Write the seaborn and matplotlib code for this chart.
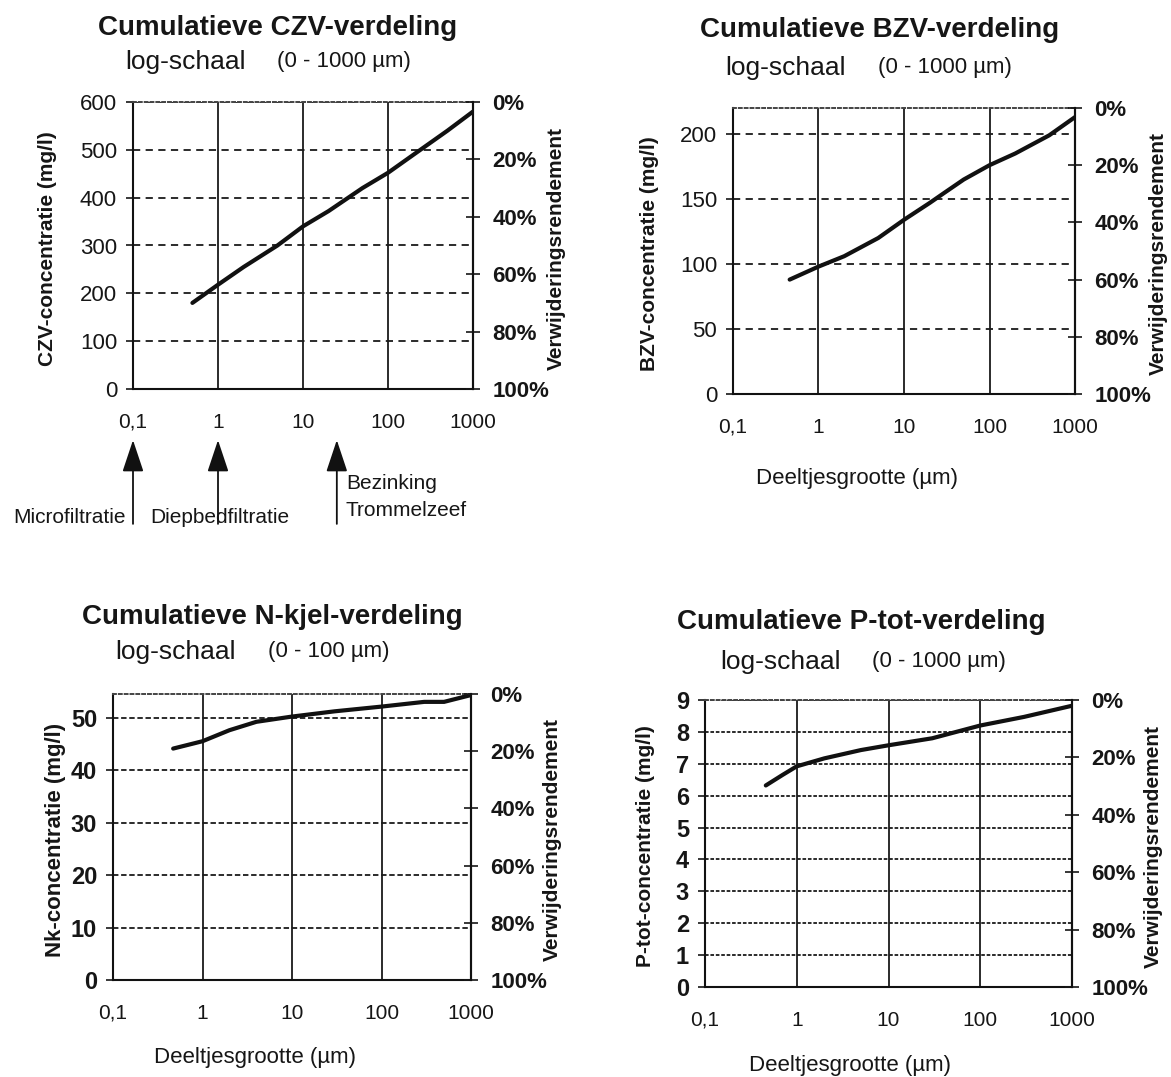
import matplotlib
matplotlib.use("Agg")
import matplotlib.pyplot as plt
import seaborn as sns
from matplotlib.ticker import FixedLocator, NullLocator

# ---- data -----------------------------------------------------------------
# particle size (um) vs cumulative concentration (mg/l)
czv_size = [0.5, 1, 2, 5, 10, 20, 50, 100, 200, 500, 1000]
czv_conc = [180, 218, 255, 300, 340, 372, 420, 452, 490, 540, 580]

bzv_size = [0.46, 1, 2, 5, 10, 20, 30, 50, 100, 200, 500, 1000]
bzv_conc = [88, 98, 106, 120, 134, 147, 155, 165, 176, 185, 199, 213]

nk_size = [0.47, 1, 2, 4, 10, 30, 100, 300, 500, 1000]
nk_conc = [44.1, 45.5, 47.6, 49.2, 50.2, 51.2, 52.1, 53.0, 53.0, 54.3]

ptot_size = [0.46, 0.7, 1, 2, 5, 10, 30, 100, 300, 1000]
ptot_conc = [6.32, 6.65, 6.92, 7.17, 7.43, 7.58, 7.8, 8.2, 8.47, 8.82]

x_ticks = [0.1, 1, 10, 100, 1000]
x_ticklabels = ["0,1", "1", "10", "100", "1000"]
pct_ticks = [0, 20, 40, 60, 80, 100]
pct_labels = [f"{p}%" for p in pct_ticks]

# separation techniques marked under the CZV chart
tech_pos = [0.1, 1, 25]

sns.set_theme(style="white")
plt.rcParams["font.family"] = ["Liberation Sans", "DejaVu Sans"]
plt.rcParams["text.color"] = "#161616"
plt.rcParams["axes.labelcolor"] = "#161616"
plt.rcParams["xtick.color"] = "#161616"
plt.rcParams["ytick.color"] = "#161616"

W, H = 1171, 1077
fig = plt.figure(figsize=(W / 100, H / 100), dpi=100)
fig.patch.set_facecolor("white")


def px_box(x0, y0, x1, y1):
    return [x0 / W, 1 - y1 / H, (x1 - x0) / W, (y1 - y0) / H]


def fig_xy(x, y):
    return x / W, 1 - y / H


def draw_panel(box, size, conc, ymax, yticks, ylabel, ylab_x, rlab_x,
               ytick_size, ytick_bold, ylab_size, xlabel_xy, dash):
    ax = fig.add_axes(box)
    ax.set_xscale("log")
    sns.lineplot(x=size, y=conc, ax=ax, color="#111111", linewidth=3.0)
    ax.set_xlim(0.1, 1000)
    ax.set_ylim(0, ymax)
    ax.xaxis.set_major_locator(FixedLocator(x_ticks))
    ax.xaxis.set_minor_locator(NullLocator())
    ax.set_xticklabels(x_ticklabels)
    ax.set_yticks(yticks)
    ax.set_yticklabels([str(v) for v in yticks],
                       fontweight="bold" if ytick_bold else "normal")
    ax.set_axisbelow(True)
    ax.grid(axis="y", linestyle=dash, color="#1a1a1a", linewidth=1.3)
    ax.grid(axis="x", linestyle="-", color="#1a1a1a", linewidth=1.3)
    for side in ["left", "bottom", "right"]:
        ax.spines[side].set_color("#111111")
        ax.spines[side].set_linewidth(1.5)
    ax.spines["top"].set_color("#444444")
    ax.spines["top"].set_linestyle((0, (1.5, 1.5)))
    ax.spines["top"].set_linewidth(1.4)
    ax.tick_params(axis="y", direction="out", length=5, width=1.2,
                   pad=6.5, labelsize=ytick_size)
    ax.tick_params(axis="x", direction="out", length=5, width=1.2,
                   pad=12, labelsize=15)
    ax.set_ylabel(ylabel, fontsize=ylab_size, fontweight="bold")
    ax.yaxis.set_label_coords(ylab_x, 0.49)
    ax.yaxis.label.set_va("center")
    if xlabel_xy is not None:
        ax.set_xlabel("Deeltjesgrootte (µm)", fontsize=16)
        ax.xaxis.set_label_coords(*xlabel_xy)
        ax.xaxis.label.set_va("center")

    ax2 = ax.twinx()
    ax2.set_ylim(100, 0)
    ax2.set_yticks(pct_ticks)
    ax2.set_yticklabels(pct_labels, fontweight="bold")
    ax2.grid(False)
    ax2.tick_params(axis="y", direction="inout", length=10, width=1.2,
                    pad=9, labelsize=16)
    for side in ["left", "bottom", "top"]:
        ax2.spines[side].set_visible(False)
    ax2.spines["right"].set_color("#111111")
    ax2.spines["right"].set_linewidth(1.5)
    ax2.set_ylabel("Verwijderingsrendement", fontsize=15, fontweight="bold")
    ax2.yaxis.set_label_coords(rlab_x, 0.49)
    ax2.yaxis.label.set_va("center")
    return ax


def titles(title, tx, ty, sub_a, sub_b, ax_x, bx_x, sy):
    fig.text(*fig_xy(tx, ty), title, fontsize=20, fontweight="bold",
             ha="center", va="center")
    fig.text(*fig_xy(ax_x, sy), sub_a, fontsize=19, ha="left", va="center")
    fig.text(*fig_xy(bx_x, sy), sub_b, fontsize=16, ha="left", va="center")


# ---- CZV -------------------------------------------------------------------
ax1 = draw_panel(px_box(133, 102, 473, 389), czv_size, czv_conc, 600,
                 list(range(0, 601, 100)), "CZV-concentratie (mg/l)",
                 -0.25, 1.244, 16, False, 15, None, (0, (4, 3)))
titles("Cumulatieve CZV-verdeling", 278, 28, "log-schaal", "(0 - 1000 µm)",
       125, 277, 62)

trans = ax1.get_xaxis_transform()
for xp in tech_pos:
    ax1.annotate("", xy=(xp, -0.178), xytext=(xp, -0.47), xycoords=trans,
                 textcoords=trans, annotation_clip=False,
                 arrowprops=dict(arrowstyle="-|>,head_length=0.9,head_width=0.3",
                                 color="#111111", lw=1.3, mutation_scale=22,
                                 shrinkA=0, shrinkB=0))
ax1.text(0.082, -0.446, "Microfiltratie", transform=trans, fontsize=15,
         ha="right", va="center", clip_on=False)
ax1.text(1.05, -0.449, "Diepbedfiltratie", transform=trans, fontsize=15,
         ha="center", va="center", clip_on=False)
ax1.text(32, -0.331, "Bezinking", transform=trans, fontsize=15,
         ha="left", va="center", clip_on=False)
ax1.text(32, -0.425, "Trommelzeef", transform=trans, fontsize=15,
         ha="left", va="center", clip_on=False)

# ---- BZV -------------------------------------------------------------------
draw_panel(px_box(733, 108, 1075, 394), bzv_size, bzv_conc, 220,
           list(range(0, 201, 50)), "BZV-concentratie (mg/l)",
           -0.243, 1.243, 16, False, 15, (0.363, -0.294), (0, (4, 3)))
titles("Cumulatieve BZV-verdeling", 880, 30, "log-schaal", "(0 - 1000 µm)",
       725, 878, 68)

# ---- N-kjel ----------------------------------------------------------------
draw_panel(px_box(113, 694, 471, 980), nk_size, nk_conc, 54.5,
           list(range(0, 51, 10)), "Nk-concentratie (mg/l)",
           -0.162, 1.226, 17, True, 16, (0.397, -0.27), (0, (3, 1.5)))
titles("Cumulatieve N-kjel-verdeling", 272, 617, "log-schaal", "(0 - 100 µm)",
       115, 268, 652)

# ---- P-tot -----------------------------------------------------------------
draw_panel(px_box(705, 700, 1072, 987), ptot_size, ptot_conc, 9,
           list(range(0, 10)), "P-tot-concentratie (mg/l)",
           -0.163, 1.223, 17, True, 15, (0.395, -0.273), (0, (2, 1)))
titles("Cumulatieve P-tot-verdeling", 861, 622, "log-schaal", "(0 - 1000 µm)",
       720, 872, 662)

fig.savefig("out.png", dpi=100, facecolor="white")
